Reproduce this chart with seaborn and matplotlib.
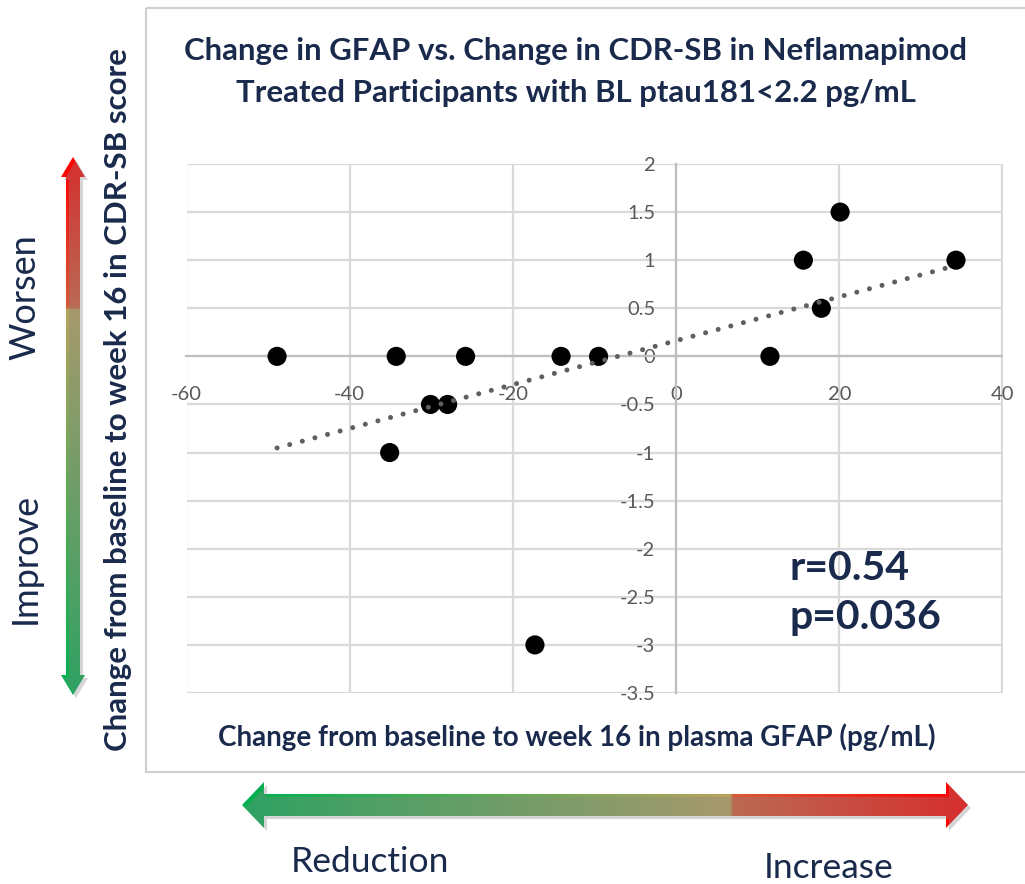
import numpy as np
import pandas as pd
import matplotlib
matplotlib.use("Agg")
import matplotlib.pyplot as plt
import seaborn as sns
from matplotlib.patches import Polygon, Rectangle
from matplotlib.colors import LinearSegmentedColormap

# ---------------- data ----------------
gfap_change = [-48.9, -34.3, -25.8, -14.1, -9.5, -30.1, -28.0, -35.1, -17.3,
               11.5, 15.6, 17.8, 20.1, 34.3]
cdrsb_change = [0, 0, 0, 0, 0, -0.5, -0.5, -1, -3,
                0, 1, 0.5, 1.5, 1]
x_ticks = [-60, -40, -20, 0, 20, 40]
x_tick_labels = ["-60", "-40", "-20", "0", "20", "40"]
y_ticks = [2, 1.5, 1, 0.5, 0, -0.5, -1, -1.5, -2, -2.5, -3, -3.5]
y_tick_labels = ["2", "1.5", "1", "0.5", "0", "-0.5", "-1", "-1.5", "-2", "-2.5", "-3", "-3.5"]
title_text = ("Change in GFAP vs. Change in CDR-SB in Neflamapimod\n"
              "Treated Participants with BL ptau181<2.2 pg/mL")
x_label = "Change from baseline to week 16 in plasma GFAP (pg/mL)"
y_label = "Change from baseline to week 16 in CDR-SB score"
stats_text = ["r=0.54", "p=0.036"]
side_labels = ["Worsen", "Improve"]
bottom_labels = ["Reduction", "Increase"]

df = pd.DataFrame({"gfap": gfap_change, "cdrsb": cdrsb_change})

# ---------------- style ----------------
sns.set_theme(style="white")
plt.rcParams["font.family"] = ["Lato", "DejaVu Sans"]
NAVY = "#1a2a4c"
GRID = "#d9d9d9"
TICK = "#595959"

W, H = 1025, 884
fig = plt.figure(figsize=(W / 100, H / 100), dpi=100)
fig.patch.set_facecolor("white")

# overlay axes in pixel coordinates (for decorations)
ov = fig.add_axes([0, 0, 1, 1])
ov.set_xlim(0, W)
ov.set_ylim(H, 0)
ov.axis("off")
ov.set_zorder(0)

ax = fig.add_axes([186.5 / W, 1 - 693 / H, 816 / W, 529 / H])
ax.set_zorder(1)

sns.regplot(data=df, x="gfap", y="cdrsb", ax=ax, ci=None, color="black",
            scatter_kws=dict(s=190, alpha=1, edgecolor="none", zorder=3),
            line_kws=dict(color="#5f5f5f", lw=3.6, ls=(0, (0.01, 2.6)),
                          dash_capstyle="round", zorder=4))

ax.set_xlim(-60, 40)
ax.set_ylim(-3.5, 2)
ax.set_xticks(x_ticks)
ax.set_xticklabels(x_tick_labels, fontweight="bold")
ax.set_yticks(y_ticks)
ax.set_yticklabels(y_tick_labels, fontweight="bold")
ax.grid(True, color=GRID, lw=1.6)
ax.set_axisbelow(True)
for s in ["top", "right"]:
    ax.spines[s].set_visible(False)
ax.spines["left"].set_position(("data", 0))
ax.spines["bottom"].set_position(("data", 0))
for s in ["left", "bottom"]:
    ax.spines[s].set_color("#bfbfbf")
    ax.spines[s].set_linewidth(1.6)
    ax.spines[s].set_zorder(2)
ax.tick_params(axis="x", length=0, pad=21, labelsize=14.5, labelcolor=TICK)
ax.tick_params(axis="y", length=0, pad=15, labelsize=14.5, labelcolor=TICK)

ax.set_xlabel(x_label, fontsize=20, fontweight="bold", color=NAVY)
ax.xaxis.set_label_coords((577 - 186.5) / 816, (693 - 737) / 529)
ax.xaxis.label.set_verticalalignment("center")
ax.set_ylabel(y_label, fontsize=22.5, fontweight="bold", color=NAVY)
ax.yaxis.set_label_coords((118 - 186.5) / 816, (693 - 400) / 529)
ax.yaxis.label.set_verticalalignment("center")

ax.set_title(title_text, fontsize=22.4, fontweight="bold", color=NAVY,
             x=(576 - 186.5) / 816, y=(693 - 80) / 529, va="center",
             linespacing=1.6)

for i, s in enumerate(stats_text):
    ax.text((790 - 186.5) / 816, (693 - (568 + 49 * i)) / 529, s,
            transform=ax.transAxes, fontsize=29.5, fontweight="bold",
            color=NAVY, ha="left", va="center")

# panel border
ov.add_patch(Rectangle((146, 8), 900, 764, fill=False, edgecolor="#d0d0d0", lw=1.5))

# gradient arrows
def grad_arrow(pts, cmap, extent, vertical):
    shadow = Polygon([(x + 3, y + 3) for x, y in pts], closed=True,
                     facecolor="#888888", edgecolor="none", alpha=0.35)
    ov.add_patch(shadow)
    poly = Polygon(pts, closed=True, facecolor="none", edgecolor="none")
    ov.add_patch(poly)
    if vertical:
        img = np.linspace(1, 0, 400).reshape(-1, 1)
    else:
        img = np.linspace(0, 1, 400).reshape(1, -1)
    im = ov.imshow(img, cmap=cmap, extent=extent, origin="upper",
                   aspect="auto", vmin=0, vmax=1, interpolation="bilinear")
    im.set_clip_path(poly)

v_cmap = LinearSegmentedColormap.from_list(
    "v", [(0, "#00b050"), (0.72, "#b8a35f"), (0.722, "#d45a3a"), (1, "#ff0000")])
h_cmap = LinearSegmentedColormap.from_list(
    "h", [(0, "#00b050"), (0.674, "#b9a25f"), (0.676, "#d75a38"), (1, "#ff0000")])

cx = 73
vpts = [(cx, 157), (cx + 12, 177), (cx + 7, 177), (cx + 7, 675), (cx + 12, 675),
        (cx, 695), (cx - 12, 675), (cx - 7, 675), (cx - 7, 177), (cx - 12, 177)]
grad_arrow(vpts, v_cmap, (cx - 12, cx + 12, 695, 157), True)

cy = 805
hpts = [(242, cy), (264, cy - 23), (264, cy - 11), (946, cy - 11), (946, cy - 23),
        (968, cy), (946, cy + 23), (946, cy + 11), (264, cy + 11), (264, cy + 23)]
grad_arrow(hpts, h_cmap, (242, 968, cy + 23, cy - 23), False)

ov.text(25, 297, side_labels[0], rotation=90, ha="center", va="center",
        fontsize=26, color=NAVY)
ov.text(25, 558, side_labels[1], rotation=90, ha="center", va="center",
        fontsize=26, color=NAVY)
ov.text(370, 862, bottom_labels[0], ha="center", va="center", fontsize=25.5, color=NAVY)
ov.text(829, 868, bottom_labels[1], ha="center", va="center", fontsize=25.5, color=NAVY)

fig.savefig("out.png", dpi=100, facecolor="white")
